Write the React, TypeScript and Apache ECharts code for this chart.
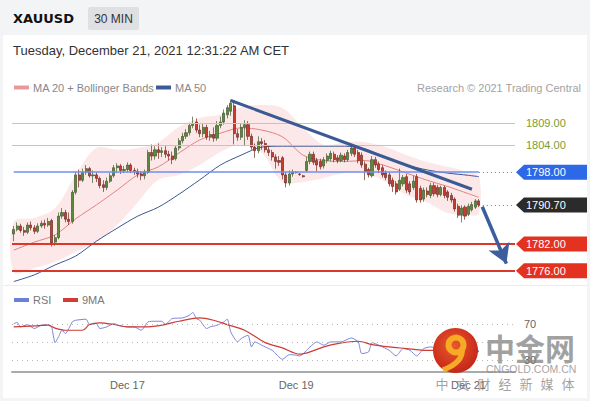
import React, { useEffect, useRef } from "react";
import * as echarts from "echarts";

const FONT = '"Liberation Sans", Arial, sans-serif';
const CJK = '"Noto Sans CJK SC", sans-serif';

// 30-minute candles: [open, close, low, high]
const candles: number[][] = [
  [1784.2, 1785.2, 1782.6, 1786.0], [1785.2, 1786.0, 1784.8, 1786.8], [1786.0, 1785.0, 1784.5, 1786.5],
  [1785.0, 1784.6, 1783.8, 1785.8], [1784.6, 1786.2, 1784.2, 1786.8], [1786.2, 1785.6, 1785.0, 1787.0],
  [1785.6, 1784.8, 1784.2, 1786.2], [1784.8, 1786.0, 1784.4, 1786.6], [1786.0, 1786.6, 1785.6, 1787.2],
  [1786.6, 1786.2, 1785.4, 1787.4], [1786.2, 1787.0, 1785.8, 1787.8], [1787.2, 1782.2, 1781.4, 1787.6],
  [1782.4, 1783.4, 1781.6, 1784.0], [1783.4, 1788.2, 1783.0, 1789.0], [1788.2, 1789.0, 1787.6, 1790.0],
  [1789.0, 1787.5, 1786.8, 1789.6], [1787.5, 1787.0, 1786.2, 1789.0], [1787.0, 1793.5, 1786.5, 1794.0],
  [1793.5, 1797.4, 1793.0, 1798.1], [1797.4, 1796.2, 1794.6, 1798.6], [1796.2, 1798.0, 1795.8, 1798.8],
  [1798.0, 1798.8, 1797.4, 1799.6], [1798.8, 1797.2, 1796.8, 1799.2], [1797.2, 1797.4, 1795.6, 1798.4],
  [1797.4, 1796.6, 1795.8, 1798.0], [1796.6, 1795.0, 1794.4, 1797.0], [1795.2, 1794.6, 1793.6, 1796.2],
  [1794.6, 1796.0, 1794.0, 1796.8], [1796.0, 1797.2, 1795.6, 1797.8], [1797.2, 1799.0, 1796.8, 1799.6],
  [1799.0, 1799.4, 1797.8, 1800.0], [1799.4, 1798.4, 1797.6, 1799.8], [1798.4, 1798.6, 1797.8, 1799.4],
  [1798.6, 1799.6, 1798.0, 1800.2], [1799.6, 1798.4, 1797.8, 1800.0], [1798.4, 1798.2, 1797.4, 1799.0],
  [1798.2, 1797.6, 1796.8, 1798.8], [1797.6, 1797.2, 1796.2, 1798.2], [1797.2, 1798.0, 1796.4, 1798.6],
  [1798.0, 1802.4, 1797.6, 1803.0], [1802.4, 1801.6, 1800.6, 1804.2], [1801.6, 1803.0, 1800.8, 1803.8],
  [1803.0, 1802.4, 1801.0, 1804.4], [1802.4, 1802.8, 1801.4, 1803.6], [1802.8, 1802.0, 1801.2, 1803.8],
  [1802.0, 1801.6, 1800.6, 1802.8], [1801.6, 1800.8, 1799.8, 1802.6], [1801.0, 1803.4, 1800.6, 1804.0],
  [1803.4, 1805.0, 1802.8, 1805.6], [1805.0, 1806.0, 1804.4, 1806.8], [1806.0, 1806.8, 1805.4, 1807.6],
  [1806.8, 1808.4, 1806.2, 1809.0], [1808.4, 1808.8, 1807.8, 1810.4], [1809.2, 1807.4, 1806.8, 1810.0],
  [1807.4, 1806.6, 1805.8, 1808.6], [1806.6, 1808.0, 1805.8, 1809.0], [1808.0, 1805.8, 1805.2, 1808.6],
  [1805.8, 1806.4, 1805.0, 1807.2], [1806.4, 1805.6, 1804.8, 1808.0], [1805.6, 1808.4, 1805.0, 1809.4],
  [1808.4, 1809.2, 1807.8, 1810.4], [1809.2, 1811.2, 1808.6, 1812.0], [1810.8, 1812.4, 1810.0, 1813.0],
  [1811.6, 1813.4, 1810.6, 1814.2], [1812.8, 1806.6, 1804.2, 1813.6], [1806.6, 1805.8, 1805.0, 1807.6],
  [1805.8, 1808.0, 1805.2, 1808.8], [1808.0, 1808.6, 1803.8, 1809.6], [1808.6, 1806.0, 1805.2, 1809.4],
  [1806.0, 1803.6, 1803.0, 1806.6], [1803.6, 1802.8, 1801.2, 1804.4], [1802.8, 1804.8, 1802.2, 1806.0],
  [1804.8, 1804.4, 1803.0, 1805.6], [1804.4, 1803.0, 1802.4, 1805.2], [1803.0, 1802.4, 1801.6, 1804.0],
  [1802.4, 1801.4, 1800.6, 1803.0], [1801.4, 1800.4, 1798.8, 1802.0], [1800.6, 1800.2, 1799.4, 1801.6],
  [1801.2, 1797.4, 1796.4, 1801.6], [1797.4, 1795.6, 1794.6, 1798.0], [1795.6, 1797.6, 1795.0, 1798.4],
  [1797.6, 1798.0, 1797.0, 1798.6], [1797.9, 1798.0, 1797.7, 1798.2], [1797.6, 1797.5, 1797.2, 1797.8],
  [1797.2, 1797.0, 1796.8, 1797.4], [1798.4, 1800.4, 1798.0, 1801.4], [1800.4, 1802.0, 1799.8, 1802.6],
  [1802.0, 1800.2, 1799.6, 1802.6], [1800.6, 1799.6, 1798.2, 1801.2], [1800.4, 1799.2, 1798.6, 1801.0],
  [1799.4, 1800.8, 1798.8, 1801.4], [1800.6, 1801.6, 1800.0, 1802.2], [1801.0, 1802.2, 1800.4, 1802.8],
  [1802.0, 1800.8, 1800.2, 1802.6], [1801.2, 1800.6, 1800.0, 1801.8], [1800.6, 1801.8, 1800.2, 1802.4],
  [1801.6, 1800.8, 1800.2, 1802.2], [1800.8, 1802.4, 1800.4, 1803.0], [1802.2, 1803.4, 1801.6, 1803.8],
  [1803.4, 1802.0, 1801.4, 1804.0], [1802.4, 1800.6, 1800.0, 1803.0], [1801.8, 1799.6, 1799.0, 1802.4],
  [1799.8, 1798.2, 1796.2, 1800.4], [1798.6, 1797.4, 1796.8, 1799.0], [1797.2, 1800.8, 1796.8, 1801.6],
  [1800.8, 1799.6, 1799.0, 1801.4], [1799.8, 1798.6, 1797.8, 1800.4], [1799.0, 1797.4, 1796.8, 1799.6],
  [1797.8, 1796.8, 1796.2, 1798.4], [1797.4, 1795.4, 1794.8, 1798.0], [1796.2, 1794.8, 1793.6, 1796.8],
  [1795.4, 1793.6, 1793.0, 1796.0], [1794.2, 1796.2, 1793.8, 1798.8], [1795.4, 1796.8, 1794.8, 1797.4],
  [1797.0, 1794.0, 1793.4, 1797.6], [1795.4, 1793.6, 1793.0, 1796.0], [1794.6, 1796.0, 1794.0, 1797.2],
  [1797.0, 1791.8, 1791.2, 1797.6], [1794.4, 1791.8, 1791.2, 1795.0], [1792.0, 1794.0, 1791.4, 1794.6],
  [1793.8, 1793.0, 1792.4, 1794.6], [1792.8, 1795.0, 1792.2, 1795.6], [1795.0, 1793.2, 1792.6, 1795.6],
  [1794.6, 1793.0, 1792.4, 1795.2], [1793.0, 1794.6, 1792.6, 1795.0], [1794.6, 1792.8, 1792.2, 1795.0],
  [1793.6, 1792.4, 1791.6, 1794.0], [1792.8, 1791.8, 1791.2, 1793.4], [1792.0, 1789.8, 1789.2, 1792.4],
  [1790.4, 1788.4, 1787.8, 1791.0], [1788.4, 1790.0, 1786.8, 1790.6], [1790.2, 1788.2, 1787.4, 1790.6],
  [1788.6, 1790.4, 1788.2, 1791.0], [1789.6, 1790.8, 1789.2, 1791.4], [1790.2, 1791.6, 1789.8, 1792.0],
  [1791.6, 1790.7, 1790.2, 1792.0],
];
const emptySlots = 10; // room on the right for the level tags

// Indicator readings at sample candles
const sampleIdx = [0, 6, 12, 18, 24, 30, 36, 42, 48, 54, 60, 66, 72, 78, 84, 90, 96, 102, 108, 114, 120, 126, 132, 135];
const ma20 = [1780.6, 1782.4, 1784.0, 1787.6, 1790.7, 1794.0, 1797.4, 1799.2, 1802.3, 1805.2, 1806.7, 1807.9, 1807.4, 1805.9, 1801.8, 1800.6, 1800.4, 1800.6, 1799.4, 1797.8, 1796.2, 1794.8, 1793.2, 1792.4];
const ma50 = [1773.6, 1775.1, 1777.3, 1779.3, 1782.6, 1785.5, 1788.2, 1790.2, 1793.1, 1796.3, 1799.6, 1801.8, 1803.6, 1803.8, 1803.8, 1803.8, 1803.8, 1803.2, 1801.2, 1799.6, 1798.5, 1797.8, 1797.3, 1797.0];
const bbUpper = [1786.9, 1787.8, 1790.0, 1797.4, 1803.4, 1803.0, 1803.4, 1804.7, 1808.1, 1810.1, 1810.8, 1812.5, 1813.0, 1812.3, 1807.9, 1804.1, 1804.7, 1804.7, 1803.6, 1801.8, 1800.3, 1799.2, 1798.0, 1797.2];
const bbLower = [1775.7, 1776.6, 1778.0, 1780.2, 1782.4, 1786.2, 1791.3, 1796.3, 1797.4, 1799.6, 1802.5, 1804.1, 1802.3, 1795.8, 1795.8, 1796.7, 1797.8, 1797.8, 1795.8, 1792.9, 1791.3, 1788.9, 1788.4, 1788.7];

const rsiIdx = [0, 1, 2, 4, 6, 8, 10, 11, 12, 13, 14, 15, 17, 18, 21, 22, 24, 25, 27, 29, 31, 33, 35, 37, 39, 41, 43, 44, 46, 49, 51, 52, 53, 54, 56, 57, 59, 61, 62, 63, 65, 66, 68, 69, 70, 72, 73, 75, 78, 80, 82, 83, 86, 88, 90, 92, 95, 98, 100, 101, 103, 104, 106, 109, 111, 113, 115, 117, 119, 121, 124, 127, 130, 133, 135];
const rsiValues = [70.7, 71.9, 67, 69.6, 65.2, 68.9, 69.6, 67, 49.6, 55.9, 63.3, 59.6, 72.6, 74.4, 75.6, 69.6, 70.7, 65.2, 67, 70.7, 68.1, 67, 67, 63.3, 72.6, 73.3, 73.3, 69.6, 76.3, 77, 80, 83, 76.3, 74.4, 65.2, 67, 68.9, 72.6, 75.6, 61.5, 50.4, 54.1, 57.8, 44.8, 50.4, 46.7, 44.8, 41.1, 31.1, 36.3, 35.6, 34.8, 44.8, 50.4, 46.7, 50.4, 50.4, 54.8, 50.4, 37.4, 39.3, 49.6, 46.7, 41.1, 34.8, 43, 41.1, 34.8, 43, 44.8, 42, 38, 34, 40, 41];
const rsiMaIdx = [0, 6, 10, 12, 15, 20, 22, 25, 29, 33, 38, 43, 45, 48, 54, 58, 62, 67, 73, 78, 83, 86, 90, 94, 100, 104, 109, 114, 119, 124, 130, 135];
const rsiMaValues = [67, 68.1, 68.9, 65.6, 63.3, 63.3, 69.7, 71.5, 69.7, 67, 67, 68.9, 70.7, 73.3, 77, 74.4, 69.6, 63.3, 49.6, 43.7, 36.8, 39.3, 44.8, 48.5, 51.1, 47.4, 44.8, 43, 41.1, 41, 40, 39.5];
const rsiLevels = [70, 50, 30];

const dayTickIndex = [33, 82, 132];
const dayTickLabels = ["Dec 17", "Dec 19", "Dec 21"];

const levelValues = [1809, 1804, 1798, 1790.7, 1782, 1776];
const levelLabels = ["1809.00", "1804.00", "1798.00", "1790.70", "1782.00", "1776.00"];
const lastPrice = 1790.7;

// Trend line and projected move: [candle index, price]
const trendLine = [[63, 1814.0], [133, 1794.2]];
const projection = [[136, 1790.3], [143, 1777.6]];

const symbolName = "XAUUSD";
const timeframe = "30 MIN";
const dateText = "Tuesday, December 21, 2021 12:31:22 AM CET";
const copyright = "Research \u00A9 2021 Trading Central";

export default function App() {
  const ref = useRef<HTMLDivElement>(null);
  useEffect(() => {
    const chart = echarts.init(ref.current as HTMLDivElement, null, { renderer: "svg", width: 590, height: 401 });
    const slots = candles.length + emptySlots;
    const categories = Array.from({ length: slots }, (_, i) => String(i));
    const pairs = (idx: number[], vals: number[]) => idx.map((ix, k) => [ix, vals[k]]);
    const lastIdx = candles.length - 1;

    const option: any = {
      animation: false,
      grid: [
        { left: 12, width: 503, top: 96, height: 186 },
        { left: 12, width: 503, top: 308, height: 64 },
      ],
      xAxis: [
        { type: "category", gridIndex: 0, data: categories, show: false },
        {
          type: "category", gridIndex: 1, data: categories,
          axisLine: { lineStyle: { color: "#aaaaaa", width: 2 } },
          axisTick: { show: false },
          splitLine: { show: false },
          axisLabel: {
            interval: (i: number) => dayTickIndex.indexOf(i) >= 0,
            formatter: (_v: string, i: number) => {
              const k = dayTickIndex.indexOf(i);
              return k >= 0 ? dayTickLabels[k] : "";
            },
            color: "#666", fontSize: 11, fontFamily: FONT, margin: 7,
          },
        },
      ],
      yAxis: [
        { type: "value", gridIndex: 0, min: 1773.5, max: 1815, show: false },
        { type: "value", gridIndex: 1, min: 17, max: 88, show: false },
      ],
      series: [
        {
          type: "custom", xAxisIndex: 0, yAxisIndex: 0, silent: true, z: 1,
          data: [[0, 1790]],
          renderItem: (_p: any, api: any) => {
            const pts: number[][] = [];
            sampleIdx.forEach((ix, k) => pts.push(api.coord([ix, bbUpper[k]])));
            for (let k = sampleIdx.length - 1; k >= 0; k--) pts.push(api.coord([sampleIdx[k], bbLower[k]]));
            return { type: "polygon", shape: { points: pts, smooth: 0.35 }, style: { fill: "rgba(240,150,150,0.22)" } };
          },
        },
        {
          type: "line", xAxisIndex: 0, yAxisIndex: 0, z: 2, silent: true,
          data: pairs(sampleIdx, ma20), showSymbol: false, smooth: 0.3,
          lineStyle: { color: "#e58080", width: 1 },
          markLine: {
            silent: true, symbol: ["none", "none"], label: { show: false },
            data: [
              { yAxis: levelValues[0], lineStyle: { color: "#bcd197", width: 1, type: "solid" } },
              { yAxis: levelValues[1], lineStyle: { color: "#bcd197", width: 1, type: "solid" } },
              [{ coord: [0, levelValues[2]], lineStyle: { color: "#6f8ff0", width: 1.5, type: "solid" } }, { coord: [lastIdx, levelValues[2]] }],
              [{ coord: [lastIdx, levelValues[2]], lineStyle: { color: "#777", width: 1, type: [1, 3] } }, { coord: [slots - 1, levelValues[2]] }],
              [{ coord: [lastIdx, lastPrice], lineStyle: { color: "#777", width: 1, type: [1, 3] } }, { coord: [slots - 1, lastPrice] }],
              { yAxis: levelValues[4], lineStyle: { color: "#d9382b", width: 2, type: "solid" } },
              { yAxis: levelValues[5], lineStyle: { color: "#d9382b", width: 2, type: "solid" } },
            ],
          },
        },
        {
          type: "line", xAxisIndex: 0, yAxisIndex: 0, z: 2, silent: true,
          data: pairs(sampleIdx, ma50), showSymbol: false, smooth: 0.3,
          lineStyle: { color: "#3a5793", width: 1 },
        },
        {
          type: "candlestick", xAxisIndex: 0, yAxisIndex: 0, z: 3, silent: true,
          data: candles, barWidth: 2.6,
          itemStyle: { color: "#5c8a3a", color0: "#c93c2e", borderColor: "#3f5a2e", borderColor0: "#6e2a22", borderWidth: 0.7 },
          markLine: {
            silent: true, symbol: ["none", "none"], label: { show: false },
            data: [
              [{ coord: trendLine[0], lineStyle: { color: "#3a5a93", width: 3, type: "solid" } }, { coord: trendLine[1] }],
              [
                { coord: projection[0], symbol: "none", lineStyle: { color: "#3b5f9e", width: 3.5, type: "solid" } },
                { coord: projection[1], symbol: "arrow", symbolSize: [17, 19] },
              ],
            ],
          },
        },
        {
          type: "line", xAxisIndex: 1, yAxisIndex: 1, z: 2, silent: true,
          data: pairs(rsiIdx, rsiValues), showSymbol: false, smooth: 0.2,
          lineStyle: { color: "#7b86d8", width: 1 },
          markLine: {
            silent: true, symbol: ["none", "none"],
            lineStyle: { color: "#b8b8b8", width: 1, type: [1, 4] },
            label: { show: true, position: "end", color: "#666", fontSize: 11, fontFamily: FONT, distance: 9 },
            data: rsiLevels.map((v) => ({ yAxis: v, label: v === 50 ? { show: false } : { formatter: String(v) } })),
          },
        },
        {
          type: "line", xAxisIndex: 1, yAxisIndex: 1, z: 2, silent: true,
          data: pairs(rsiMaIdx, rsiMaValues), showSymbol: false, smooth: 0.3,
          lineStyle: { color: "#cd3b34", width: 1.2 },
        },
      ],
    };
    chart.setOption(option);

    const py = (v: number) => chart.convertToPixel({ yAxisIndex: 0 }, v) as unknown as number;
    const g: any[] = [];
    // header
    g.push({ type: "text", x: 13, y: 18, z: 100, style: { text: symbolName, font: 'bold 13px "DejaVu Sans"', fill: "#111", verticalAlign: "middle" } });
    g.push({ type: "rect", z: 100, shape: { x: 88, y: 7, width: 51, height: 23, r: 2 }, style: { fill: "#dfe0e3" } });
    g.push({ type: "text", x: 113.5, y: 18.5, z: 101, style: { text: timeframe, font: `12px ${FONT}`, fill: "#333", align: "center", verticalAlign: "middle" } });
    g.push({ type: "text", x: 13, y: 50, z: 100, style: { text: dateText, font: `13px ${FONT}`, fill: "#333", verticalAlign: "middle" } });
    // legends
    g.push({ type: "rect", z: 100, shape: { x: 14, y: 85.5, width: 15, height: 4 }, style: { fill: "#e89a9a" } });
    g.push({ type: "text", x: 33, y: 87.5, z: 100, style: { text: "MA 20 + Bollinger Bands", font: `11px ${FONT}`, fill: "#888", verticalAlign: "middle" } });
    g.push({ type: "rect", z: 100, shape: { x: 156, y: 85.5, width: 15, height: 4 }, style: { fill: "#3d5a98" } });
    g.push({ type: "text", x: 175, y: 87.5, z: 100, style: { text: "MA 50", font: `11px ${FONT}`, fill: "#888", verticalAlign: "middle" } });
    g.push({ type: "text", x: 581, y: 87.5, z: 100, style: { text: copyright, font: `11px ${FONT}`, fill: "#a2a2a2", align: "right", verticalAlign: "middle" } });
    g.push({ type: "line", z: 100, shape: { x1: 3, y1: 285.5, x2: 587, y2: 285.5 }, style: { stroke: "#ececec", lineWidth: 1 } });
    g.push({ type: "rect", z: 100, shape: { x: 14, y: 298, width: 15, height: 4 }, style: { fill: "#6b80d8" } });
    g.push({ type: "text", x: 33, y: 300, z: 100, style: { text: "RSI", font: `11px ${FONT}`, fill: "#777", verticalAlign: "middle" } });
    g.push({ type: "rect", z: 100, shape: { x: 63, y: 298, width: 15, height: 4 }, style: { fill: "#d23c33" } });
    g.push({ type: "text", x: 82, y: 300, z: 100, style: { text: "9MA", font: `11px ${FONT}`, fill: "#777", verticalAlign: "middle" } });
    // level labels
    const tagColors: Record<string, string> = { "1798.00": "#2d68e6", "1790.70": "#2b2b2b", "1782.00": "#e3321f", "1776.00": "#e3321f" };
    levelValues.forEach((v, k) => {
      const y = py(v);
      const label = levelLabels[k];
      const c = tagColors[label];
      if (c) {
        g.push({ type: "polygon", z: 100, shape: { points: [[516, y], [524, y - 7.5], [587, y - 7.5], [587, y + 7.5], [524, y + 7.5]] }, style: { fill: c } });
        g.push({ type: "text", x: 526, y, z: 101, style: { text: label, font: `11px ${FONT}`, fill: "#fff", verticalAlign: "middle" } });
      } else {
        g.push({ type: "text", x: 526, y, z: 101, style: { text: label, font: `11px ${FONT}`, fill: "#7d9b2f", verticalAlign: "middle" } });
      }
    });
    // watermark
    g.push({
      type: "circle", z: 110, shape: { cx: 455.5, cy: 350.5, r: 22.5 },
      style: { fill: new echarts.graphic.RadialGradient(0.45, 0.4, 0.6, [{ offset: 0, color: "#e9592a" }, { offset: 1, color: "#c5261a" }]) },
    });
    g.push({ type: "arc", z: 111, shape: { cx: 456, cy: 345, r: 7.5, startAngle: 0, endAngle: Math.PI * 2 }, style: { stroke: "#f7aa26", lineWidth: 6, fill: "none" } });
    g.push({ type: "bezierCurve", z: 111, shape: { x1: 462, y1: 348, cpx1: 464, cpy1: 362, x2: 443, y2: 370 }, style: { stroke: "#f7aa26", lineWidth: 5.5, fill: "none" } });
    g.push({ type: "text", x: 485, y: 347, z: 110, style: { text: "中金网", font: `bold 30px ${CJK}`, fill: "rgba(125,125,125,0.72)", verticalAlign: "middle" } });
    g.push({ type: "text", x: 486, y: 369, z: 110, style: { text: "CNGOLD.COM.CN", font: `10.5px ${FONT}`, fill: "rgba(140,140,140,0.8)", verticalAlign: "middle" } });
    "中文财经新媒体".split("").forEach((ch, k) => {
      g.push({ type: "text", x: 442 + k * 21, y: 383, z: 110, style: { text: ch, font: `13px ${CJK}`, fill: "rgba(130,130,130,0.75)", align: "center", verticalAlign: "middle" } });
    });
    chart.setOption({ graphic: g });
    return () => chart.dispose();
  }, []);

  return (
    <div style={{ position: "fixed", left: 0, top: 0, width: 590, height: 401, background: "#f3f4f6", overflow: "hidden" }}>
      <div style={{ position: "absolute", left: 3, top: 35, width: 584, height: 363, background: "#ffffff" }} />
      <div ref={ref} style={{ position: "absolute", left: 0, top: 0, width: 590, height: 401 }} />
    </div>
  );
}
